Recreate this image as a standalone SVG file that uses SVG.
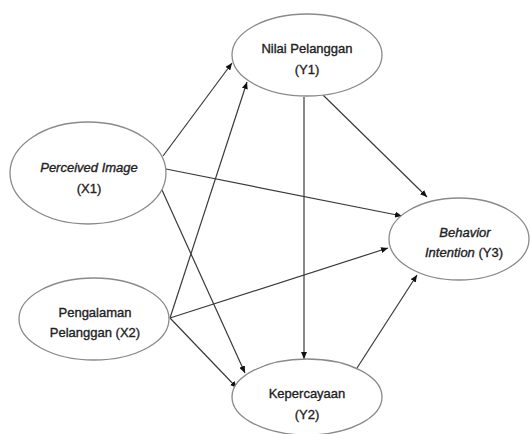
<svg xmlns="http://www.w3.org/2000/svg" width="531" height="434" viewBox="0 0 531 434">
<style>
.n{fill:#fff;stroke:#8a8a8a;stroke-width:1.3}
.t{font-family:"Liberation Sans",Arial,sans-serif;font-size:13px;fill:#222;stroke:#222;stroke-width:0.35;text-anchor:middle}
.i{font-style:italic}
.c line{stroke:#3a3a3a;stroke-width:1.2}
</style>
<defs>
<marker id="a" viewBox="0 0 10 10" refX="10" refY="5" markerWidth="7" markerHeight="6" markerUnits="userSpaceOnUse" orient="auto" preserveAspectRatio="none">
<path d="M0,0 L10,5 L0,10 z" fill="#111"/>
</marker>
</defs>
<rect width="531" height="434" fill="#fff"/>
<g class="c" marker-end="url(#a)">
<line x1="163" y1="156" x2="232" y2="63"/>
<line x1="170" y1="318" x2="247" y2="82"/>
<line x1="166" y1="169" x2="402" y2="216"/>
<line x1="162" y1="190" x2="245" y2="373"/>
<line x1="170" y1="318" x2="388" y2="248"/>
<line x1="170" y1="318" x2="237" y2="388"/>
<line x1="304" y1="97" x2="304" y2="359"/>
<line x1="323" y1="95" x2="427" y2="197"/>
<line x1="357" y1="368" x2="417" y2="275"/>
</g>
<g id="x1"><ellipse class="n" cx="88" cy="173" rx="78" ry="51"/><text class="t i" x="89" y="172">Perceived Image</text><text class="t" x="89" y="193">(X1)</text></g>
<g id="x2"><ellipse class="n" cx="94" cy="319" rx="75" ry="41"/><text class="t" x="95" y="317">Pengalaman</text><text class="t" x="95" y="337">Pelanggan (X2)</text></g>
<g id="y1"><ellipse class="n" cx="307" cy="55" rx="75" ry="41"/><text class="t" x="307" y="53">Nilai Pelanggan</text><text class="t" x="307" y="74">(Y1)</text></g>
<g id="y2"><ellipse class="n" cx="307" cy="397" rx="75" ry="38"/><text class="t" x="307" y="398">Kepercayaan</text><text class="t" x="307" y="419">(Y2)</text></g>
<g id="y3"><ellipse class="n" cx="459" cy="239" rx="70" ry="41"/><text class="t i" x="465" y="237">Behavior</text><text class="t" x="464" y="257"><tspan class="i">Intention</tspan> (Y3)</text></g>
</svg>
